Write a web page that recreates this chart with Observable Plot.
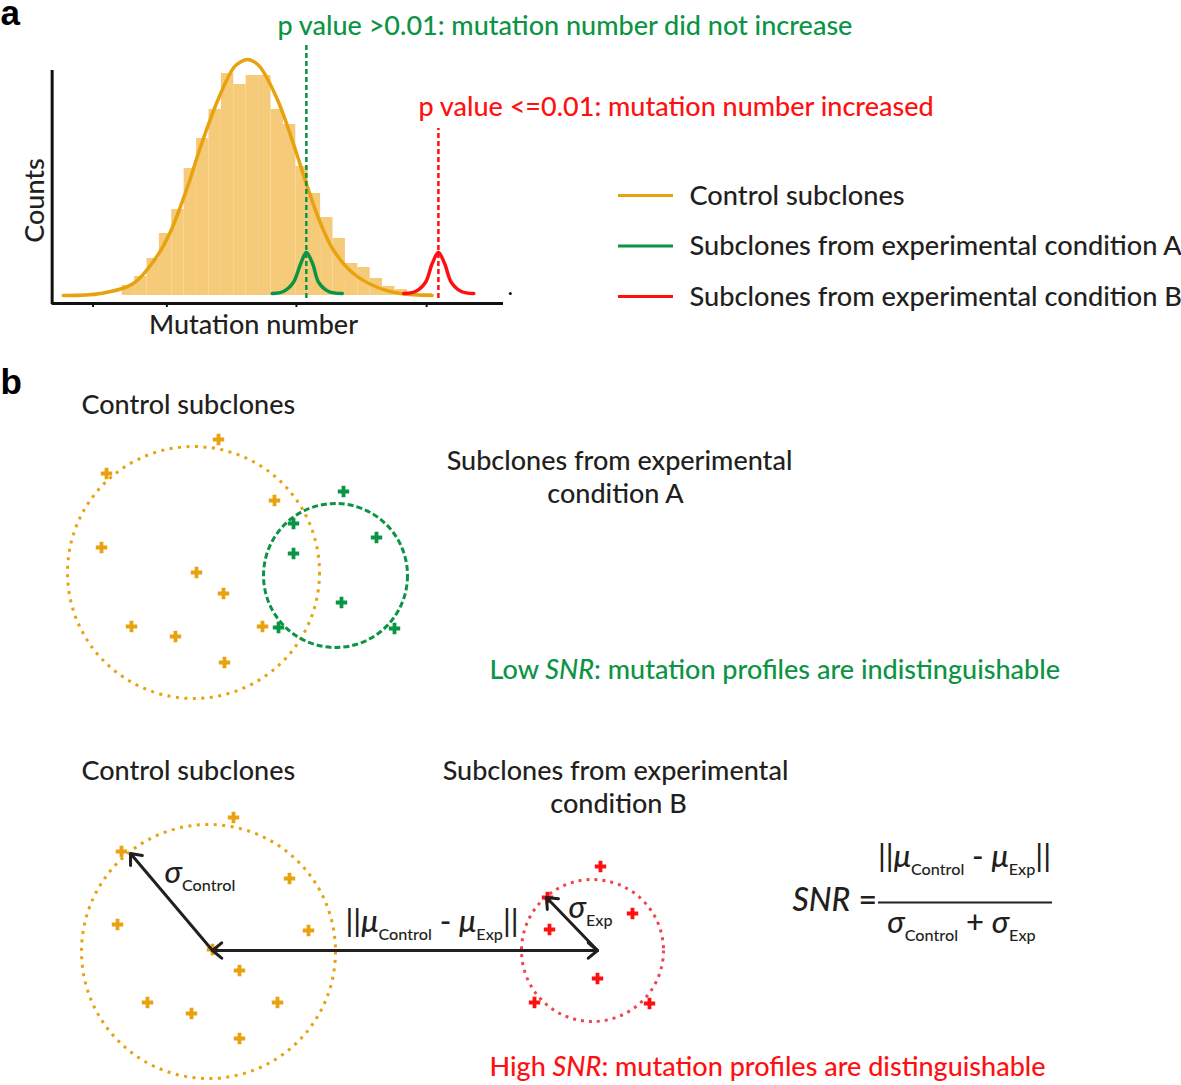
<!DOCTYPE html>
<html><head><meta charset="utf-8">
<script src="https://cdn.jsdelivr.net/npm/d3@7"></script>
<script src="https://cdn.jsdelivr.net/npm/@observablehq/plot@0.6"></script>
<style>
body{margin:0;background:#fff}
#chart{width:1181px;height:1085px;position:relative}
</style>
</head><body><div id="chart"></div>
<script>
// ---------- Panel a data (schematic units: mutation number, counts) ----------
const binStarts = [0,2,4,6,8,10,12,14,16,18,20,22,24,26,28,30,32,34,36,38,40,42,44,46,48];
const binCounts = [10,19,37,62,86,127,157,186,222,211,220,220,186,171,129,102,78,57,32,28,17,9,6,2,2];
const controlCurveX = [-9.5,-3.5,1.8,5.7,7.8,10.5,12.6,15.4,18.0,19.2,20.2,21.2,22.3,25.1,27.6,29.9,32.0,34.1,37.3,41.2,44.9,50.0];
const controlCurveY = [0,2,12,40,64,108,148,195,228,234,236,234,228,195,152,108,72,45,22,8,2,0];
const condACurveX = [24.2,26.0,27.6,28.8,29.7,30.7,31.7,33.3,35.5];
const condBCurveX = [45.4,47.3,48.9,50.0,51.0,52.0,53.1,54.7,56.7];
const peakCurveY  = [2,4,13,32,43,32,13,4,2];
const thresholds  = [29.7, 51.0];           // observed mean of condition A, B
const thresholdTops = [250, 167];
const xTicks = [-4.7, 7.2, 28.1, 49.1];
const legendLabels = ["Control subclones","Subclones from experimental condition A","Subclones from experimental condition B"];

// ---------- Panel b data (2-D schematic feature space) ----------
const ctrlA = [[218,439],[106,473],[274,500],[101,547],[196,572],[223,593],[131,626],[175,636],[262,626],[224,662]];
const expA  = [[343,491],[293,523],[376,537],[293,553],[341,602],[278,627],[394,628]];
const ctrlB = [[233,817],[121,851],[289,878],[117,924],[308,930],[212,949],[239,970],[147,1002],[277,1002],[191,1013],[239,1038]];
const expB  = [[600,866],[547,897],[632,913],[549,929],[597,978],[534,1002],[649,1003]];
const spreadCenters = [[193,572],[335,575],[208,951],[592,950]];
const spreadRadii   = [126,72,127,71];
const meanPoints  = [[212,950],[597,950]];   // mu_Control, mu_Exp
const sigmaPoints = [[130,853],[546,897]];   // sigma_Control, sigma_Exp ends

// ---------- colours / fonts ----------
const ORANGE="#e9a20f", BAR="#f5ca78", GREEN="#0b9444", RED="#ff1010", REDC="#f2444f", INK="#231f20";
const FONT = "Lato, 'Open Sans', sans-serif";

// schematic -> pixel scales for panel a
const mut = d3.scaleLinear([0,50],[121.7,431.7]);
const cnt = d3.scaleLinear([0,240],[295,55]);

const txt = (data, o) => Plot.text(data, {textAnchor:"start", lineAnchor:"bottom", fontFamily:FONT, fontSize:27, fontWeight:500, fill:INK, ...o});
const plus = (data, color) => Plot.dot(data, {x:d=>d[0], y:d=>d[1], symbol:"cross", r:4.8, fill:color, stroke:null});
const pick = arr => (d,i) => arr[i];
const arrowOpts = {stroke:INK, strokeWidth:3, headLength:6, headAngle:80};

const plot = Plot.plot({
  width:1181, height:1085, margin:0,
  x:{domain:[0,1181], range:[0,1181], axis:null},
  y:{domain:[0,1085], range:[0,1085], axis:null},
  r:{type:"identity"},
  style:{fontFamily:FONT, background:"#fff", overflow:"visible"},
  marks:[
    // ===== panel a =====
    Plot.rect(binStarts, {x1:d=>mut(d), x2:d=>mut(d+2), y1:()=>cnt(0), y2:(d,i)=>cnt(binCounts[i]), fill:BAR}),
    Plot.line(controlCurveX, {x:d=>mut(d), y:(d,i)=>cnt(controlCurveY[i]), stroke:ORANGE, strokeWidth:3.5, curve:"catmull-rom"}),
    Plot.line(condACurveX, {x:d=>mut(d), y:(d,i)=>cnt(peakCurveY[i]), stroke:GREEN, strokeWidth:3.5, curve:"catmull-rom"}),
    Plot.line(condBCurveX, {x:d=>mut(d), y:(d,i)=>cnt(peakCurveY[i]), stroke:RED, strokeWidth:3.5, curve:"catmull-rom"}),
    Plot.ruleX([thresholds[0]], {x:d=>mut(d), y1:()=>cnt(-3), y2:()=>cnt(thresholdTops[0]), stroke:GREEN, strokeWidth:2.5, strokeDasharray:"5,3"}),
    Plot.ruleX([thresholds[1]], {x:d=>mut(d), y1:()=>cnt(-3), y2:()=>cnt(thresholdTops[1]), stroke:RED, strokeWidth:2.5, strokeDasharray:"5,3"}),
    // axes
    Plot.ruleY([-8], {y:d=>cnt(d), x1:()=>mut(-11.3), x2:()=>mut(61.5), stroke:"#111", strokeWidth:3}),
    Plot.ruleX([-11.3], {x:d=>mut(d), y1:()=>cnt(-9), y2:()=>cnt(225), stroke:"#111", strokeWidth:3}),
    Plot.ruleX(xTicks, {x:d=>mut(d), y1:()=>cnt(-8), y2:()=>cnt(-12), stroke:"#111", strokeWidth:2}),
    Plot.dot([62.6], {x:d=>mut(d), y:()=>cnt(2), r:1.5, fill:"#111"}),
    txt(["Counts"], {x:43, y:200, rotate:-90, textAnchor:"middle", fontSize:27}),
    txt(["Mutation number"], {x:253, y:333, textAnchor:"middle", fontSize:27}),
    txt(["p value >0.01: mutation number did not increase"], {x:277, y:34, fill:GREEN}),
    txt(["p value <=0.01: mutation number increased"], {x:418, y:115, fill:RED}),
    // legend
    Plot.ruleY(legendLabels, {y:(d,i)=>195+i*50.5, x1:()=>618, x2:()=>673, stroke:(d,i)=>[ORANGE,GREEN,RED][i], strokeWidth:3}),
    txt(legendLabels, {x:689, y:(d,i)=>204+i*50.5, fontSize:27.2}),
    // panel letters
    txt(["a","b"], {x:0, y:pick([24,393]), fontFamily:"'Liberation Sans', Arial, sans-serif", fontWeight:"bold", fontSize:35, fill:"#000"}),

    // ===== panel b, top =====
    Plot.dot([spreadCenters[0]], {x:d=>d[0], y:d=>d[1], r:()=>spreadRadii[0], fill:"none", stroke:ORANGE, strokeWidth:3, strokeDasharray:"3,5.5"}),
    Plot.dot([spreadCenters[1]], {x:d=>d[0], y:d=>d[1], r:()=>spreadRadii[1], fill:"none", stroke:GREEN, strokeWidth:3, strokeDasharray:"6,3"}),
    plus(ctrlA, ORANGE),
    plus(expA, GREEN),
    txt(["Control subclones"], {x:81, y:413}),
    txt(["Subclones from experimental","condition A"], {x:(d,i)=>[619,615][i], y:(d,i)=>[469,502][i], textAnchor:"middle"}),
    txt(["Low *SNR*: mutation profiles are indistinguishable"], {x:489, y:678, fill:GREEN}),

    // ===== panel b, bottom =====
    Plot.dot([spreadCenters[2]], {x:d=>d[0], y:d=>d[1], r:()=>spreadRadii[2], fill:"none", stroke:ORANGE, strokeWidth:3, strokeDasharray:"3,5.5"}),
    Plot.dot([spreadCenters[3]], {x:d=>d[0], y:d=>d[1], r:()=>spreadRadii[3], fill:"none", stroke:REDC, strokeWidth:3, strokeDasharray:"3,5"}),
    plus(ctrlB, ORANGE),
    plus(expB, RED),
    // sigma arrows (mean -> spread) and distance double arrow between means
    Plot.arrow([0,1], {x1:i=>meanPoints[i][0], y1:i=>meanPoints[i][1], x2:i=>sigmaPoints[i][0], y2:i=>sigmaPoints[i][1], ...arrowOpts}),
    Plot.arrow([0,1], {x1:i=>meanPoints[i][0], y1:i=>meanPoints[i][1], x2:i=>meanPoints[1-i][0], y2:i=>meanPoints[1-i][1], ...arrowOpts}),
    txt(["Control subclones"], {x:81, y:779}),
    txt(["Subclones from experimental","condition B"], {x:(d,i)=>[615,618][i], y:(d,i)=>[779,812][i], textAnchor:"middle"}),
    txt(["*σ*_{Control}"], {x:164, y:882, fontSize:31}),
    txt(["||*μ*_{Control} - *μ*_{Exp}||"], {x:345, y:931, fontSize:31}),
    txt(["*σ*_{Exp}"], {x:568, y:917, fontSize:31}),
    // SNR formula
    txt(["*SNR* ="], {x:792, y:910, fontSize:32}),
    Plot.ruleY([902], {y:d=>d, x1:()=>878, x2:()=>1052, stroke:INK, strokeWidth:2}),
    txt(["||*μ*_{Control} - *μ*_{Exp}||"], {x:964, y:866, textAnchor:"middle", fontSize:31}),
    txt(["*σ*_{Control} + *σ*_{Exp}"], {x:961, y:932, textAnchor:"middle", fontSize:31}),
    txt(["High *SNR*: mutation profiles are distinguishable"], {x:489, y:1075, fill:RED})
  ]
});

// rich-text post-processing: *italic* and _{subscript}
plot.querySelectorAll("text").forEach(t => {
  const s = t.textContent;
  if (!/\*|_\{/.test(s)) return;
  const fs = parseFloat(t.getAttribute("font-size") || getComputedStyle(t).fontSize) || 27;
  while (t.firstChild) t.removeChild(t.firstChild);
  const re = /\*([^*]+)\*|_\{([^}]+)\}|([^*_]+)/g;
  let m, pendingUp = 0;
  const shift = fs * 0.3;
  while ((m = re.exec(s))) {
    const ts = document.createElementNS("http://www.w3.org/2000/svg","tspan");
    if (m[1] !== undefined) { ts.textContent = m[1]; ts.setAttribute("font-style","italic"); }
    else if (m[2] !== undefined) { ts.textContent = m[2]; ts.setAttribute("font-size", fs*0.6); ts.setAttribute("dy", shift); pendingUp = shift; t.appendChild(ts); continue; }
    else { ts.textContent = m[3]; }
    if (pendingUp) { ts.setAttribute("dy", -pendingUp); pendingUp = 0; }
    t.appendChild(ts);
  }
});
document.getElementById("chart").appendChild(plot);
</script>
</body></html>
